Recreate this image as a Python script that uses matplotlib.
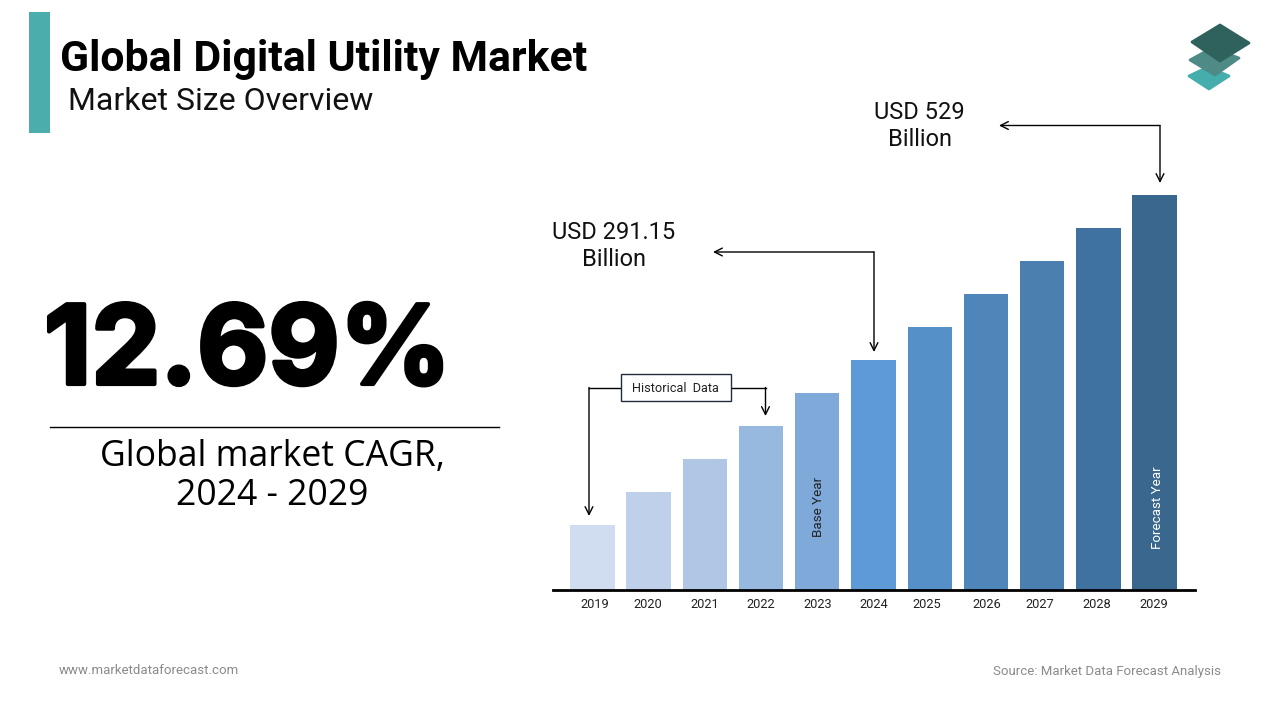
import matplotlib
matplotlib.use("Agg")
import matplotlib.pyplot as plt
import matplotlib.patheffects as pe
from matplotlib.patches import Polygon, Rectangle

# chart values, heights (2029 = 529)
years = ["2019", "2020", "2021", "2022", "2023", "2024", "2025", "2026", "2027", "2028", "2029"]
market_size = [87, 131, 175, 220, 264, 308, 352, 396, 441, 485, 529]
bar_colors = ["#D0DDF0", "#BFD1EA", "#AFC6E5", "#98B9DF", "#7EA9D9", "#5E9BD6",
              "#5690C8", "#4E86B9", "#4A7FB0", "#40729F", "#3A678E"]
label_nudge = [0.04, -0.02, -0.01, -0.01, 0.0, 0.0, -0.05, 0.02, -0.05, -0.03, -0.01]

plt.rcParams["font.family"] = "Roboto"

fig = plt.figure(figsize=(12.8, 7.2), dpi=100, facecolor="white")

# page layer in pixel coordinates for the slide furniture
page = fig.add_axes([0, 0, 1, 1])
page.set_xlim(0, 1280)
page.set_ylim(720, 0)
page.axis("off")

# bar chart layer
ax = fig.add_axes([552.5 / 1280, (720 - 590) / 720, 642 / 1280, 440 / 720])
ax.patch.set_alpha(0)
ax.bar(range(len(years)), market_size, width=0.79, color=bar_colors)
ax.set_xlim(-0.71, 10.71)
ax.set_ylim(0, 529 * 440 / 395)
ax.set_yticks([])
for side in ["top", "left", "right"]:
    ax.spines[side].set_visible(False)
ax.spines["bottom"].set_linewidth(2)
ax.spines["bottom"].set_color("black")
ax.set_xticks([i + n for i, n in enumerate(label_nudge)])
ax.set_xticklabels(years, fontsize=9.2, color="#222222")
ax.tick_params(axis="x", length=0, pad=6)

ax.text(4.03, 111, "Base Year", rotation=90, ha="center", va="center", fontsize=9.6, color="#222222")
ax.text(10.06, 110, "Forecast Year", rotation=90, ha="center", va="center", fontsize=9.6, color="white")

# header
page.add_patch(Rectangle((29, 12), 21, 121, color="#4BAEAC", lw=0))
page.text(60, 59, "Global Digital Utility Market", fontsize=30.8, fontweight="bold", va="center", color="black")
page.text(68, 102, "Market Size Overview", fontsize=23, va="center", color="#111111")

# logo
logo = dict(lw=2, joinstyle="round")
page.add_patch(Polygon([(1189, 76), (1208, 67), (1229, 76), (1209, 89)], fc="#45ADAB", ec="#45ADAB", **logo))
page.add_patch(Polygon([(1190, 60), (1212, 48), (1239, 58), (1215, 75)], fc="#4E8A86", ec="#4E8A86", **logo))
page.add_patch(Polygon([(1192, 42), (1220, 25), (1249, 43), (1220, 61)], fc="#2F625C", ec="#2F625C", **logo))

# big number
page.text(247.5, 384, "12.69%", fontsize=79, fontweight="bold", ha="center", va="baseline", color="black",
          family="Inter", path_effects=[pe.withStroke(linewidth=3, foreground="black")])
page.plot([50, 499], [427, 427], color="black", lw=1)
page.text(272, 457, "Global market CAGR,", fontsize=25.6, ha="center", va="center", family="Open Sans", color="black")
page.text(272, 496, "2024 - 2029", fontsize=25.6, ha="center", va="center", family="Open Sans", color="black")

# callouts
arrow = dict(arrowstyle="->", color="black", lw=1, shrinkA=0, shrinkB=0, mutation_scale=14)
page.text(919.5, 126, "USD 529\nBillion", fontsize=17, ha="center", va="center", linespacing=1.27, color="#111111")
page.annotate("", xy=(999, 125.5), xytext=(1160, 125.5), arrowprops=arrow)
page.annotate("", xy=(1160, 183), xytext=(1160, 125.5), arrowprops=arrow)

page.text(613.5, 246, "USD 291.15\nBillion", fontsize=17, ha="center", va="center", linespacing=1.27, color="#111111")
page.annotate("", xy=(713, 252), xytext=(874, 252), arrowprops=arrow)
page.annotate("", xy=(874, 352), xytext=(874, 252), arrowprops=arrow)

page.add_patch(Rectangle((621, 374), 110, 27, fc="white", ec="#1F2D3D", lw=1, zorder=3))
page.text(675.5, 388, "Historical  Data", fontsize=9.2, ha="center", va="center", color="#222222", zorder=4)
page.plot([621, 589], [387.5, 387.5], color="black", lw=1)
page.annotate("", xy=(589, 516), xytext=(589, 387.5), arrowprops=arrow)
page.plot([731, 765.5], [387.5, 387.5], color="black", lw=1)
page.annotate("", xy=(765.5, 416), xytext=(765.5, 387.5), arrowprops=arrow)

# footer
page.text(59, 671, "www.marketdataforecast.com", fontsize=9.5, va="center", color="#8A8A8A")
page.text(1221, 671, "Source: Market Data Forecast Analysis", fontsize=9.5, ha="right", va="center", color="#8A8A8A")

fig.savefig("out.png", dpi=100)
